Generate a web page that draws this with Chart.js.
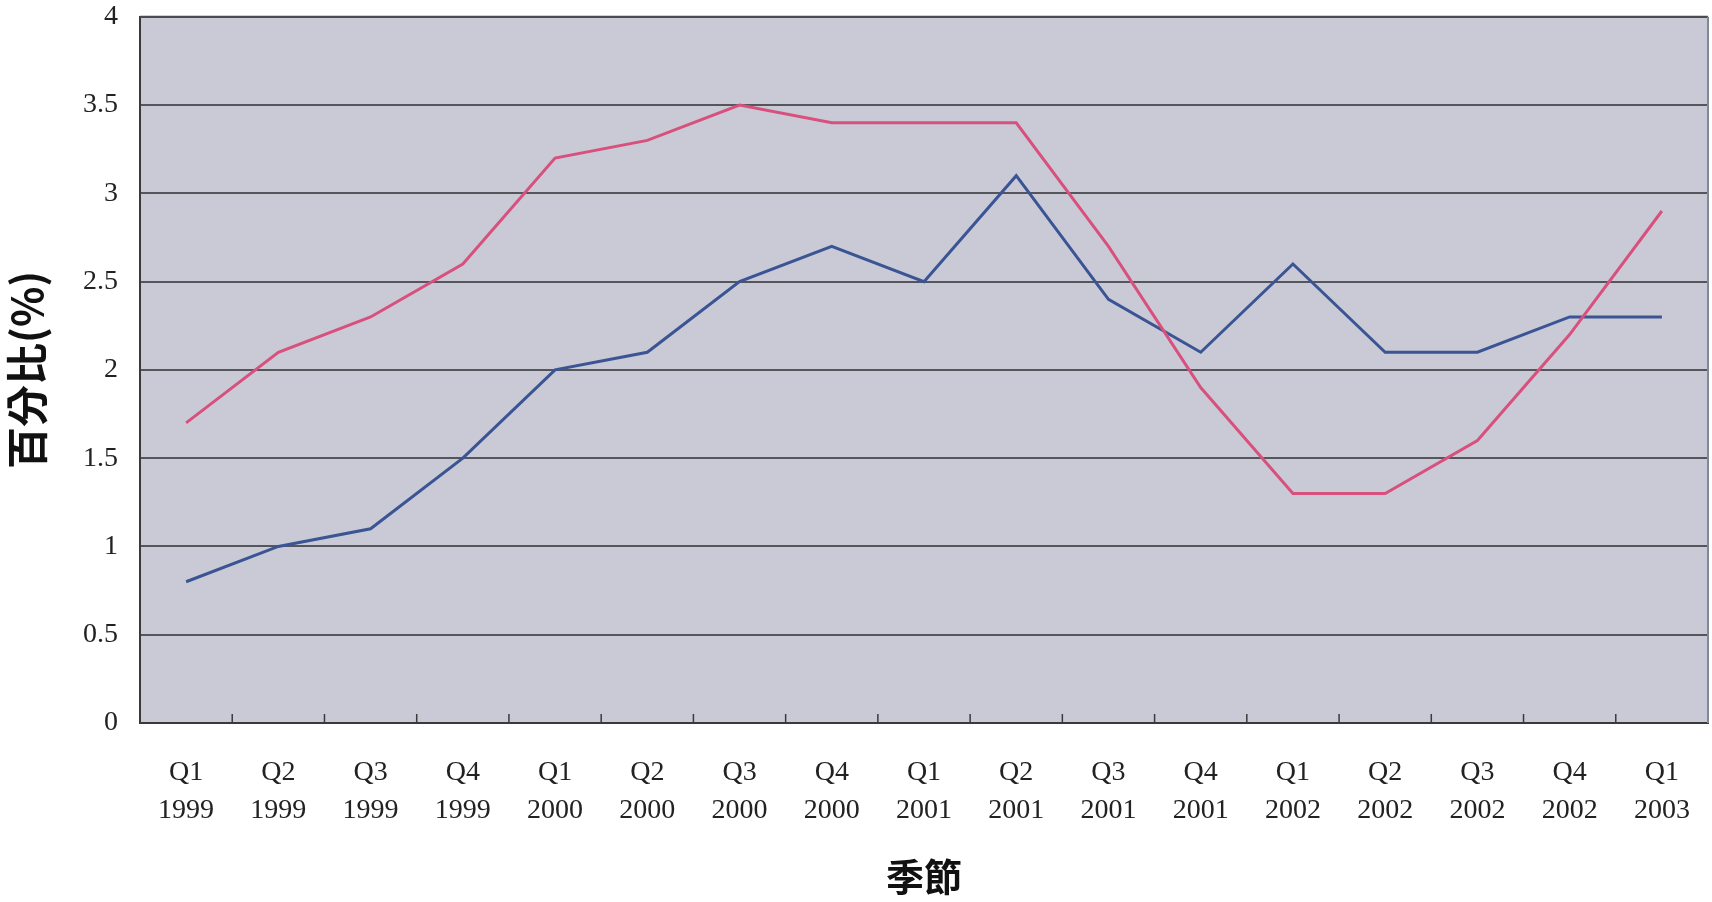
<!DOCTYPE html>
<html>
<head>
<meta charset="utf-8">
<script src="https://cdn.jsdelivr.net/npm/chart.js@4.4.1/dist/chart.umd.min.js"></script>
<style>
  html, body { margin: 0; padding: 0; background: #ffffff; }
  #wrap { width: 1712px; height: 902px; }
</style>
</head>
<body>
<div id="wrap"><canvas id="c" width="1712" height="902"></canvas></div>
<script>
const categories = [
  ['Q1','1999'], ['Q2','1999'], ['Q3','1999'], ['Q4','1999'],
  ['Q1','2000'], ['Q2','2000'], ['Q3','2000'], ['Q4','2000'],
  ['Q1','2001'], ['Q2','2001'], ['Q3','2001'], ['Q4','2001'],
  ['Q1','2002'], ['Q2','2002'], ['Q3','2002'], ['Q4','2002'],
  ['Q1','2003']
];
const redSeries  = [1.7, 2.1, 2.3, 2.6, 3.2, 3.3, 3.5, 3.4, 3.4, 3.4, 2.7, 1.9, 1.3, 1.3, 1.6, 2.2, 2.9];
const blueSeries = [0.8, 1.0, 1.1, 1.5, 2.0, 2.1, 2.5, 2.7, 2.5, 3.1, 2.4, 2.1, 2.6, 2.1, 2.1, 2.3, 2.3];
const yTicks = [0, 0.5, 1, 1.5, 2, 2.5, 3, 3.5, 4];
const yTitle = '百分比(%)';
const xTitle = '季節';

const plotFrame = {
  id: 'plotFrame',
  beforeDraw(chart) {
    const {ctx, chartArea: a} = chart;
    ctx.save();
    ctx.fillStyle = '#c9cad6';
    ctx.fillRect(a.left, a.top, a.right - a.left, a.bottom - a.top);
    ctx.restore();
  },
  afterDraw(chart) {
    const {ctx, chartArea: a} = chart;
    const xs = chart.scales.x;
    ctx.save();
    // inward category tick marks, placed between categories via the scale
    ctx.strokeStyle = '#3a3a3a';
    ctx.lineWidth = 1.5;
    for (let i = 1; i < xs.ticks.length; i++) {
      const x = (xs.getPixelForTick(i - 1) + xs.getPixelForTick(i)) / 2;
      ctx.beginPath();
      ctx.moveTo(x, a.bottom);
      ctx.lineTo(x, a.bottom - 9);
      ctx.stroke();
    }
    ctx.strokeStyle = '#4a4a50';
    ctx.lineWidth = 2;
    ctx.beginPath();
    ctx.moveTo(a.left, a.top);
    ctx.lineTo(a.right, a.top);
    ctx.stroke();
    ctx.strokeStyle = '#7d8a9a';
    ctx.beginPath();
    ctx.moveTo(a.right, a.top);
    ctx.lineTo(a.right, a.bottom);
    ctx.stroke();
    ctx.restore();
  }
};

new Chart(document.getElementById('c'), {
  type: 'line',
  data: {
    labels: categories,
    datasets: [
      { label: 'A', data: redSeries, borderColor: '#d8517e', borderWidth: 3, pointRadius: 0, tension: 0, fill: false },
      { label: 'B', data: blueSeries, borderColor: '#3a5494', borderWidth: 3, pointRadius: 0, tension: 0, fill: false }
    ]
  },
  plugins: [plotFrame],
  options: {
    responsive: false,
    animation: false,
    events: [],
    layout: { padding: { top: 5, right: 4, bottom: 0, left: 0 } },
    plugins: { legend: { display: false }, tooltip: { enabled: false } },
    scales: {
      x: {
        offset: true,
        afterFit(s) { s.height = 179; },
        grid: {
          offset: true,
          drawOnChartArea: false,
          drawTicks: true,
          tickLength: 31,
          tickColor: 'rgba(0,0,0,0)'
        },
        border: { display: true, color: '#3a3a3a', width: 2 },
        ticks: {
          color: '#222222',
          font: { family: 'Liberation Serif', size: 28, lineHeight: 1.36 },
          padding: 0,
          maxRotation: 0,
          autoSkip: false
        },
        title: {
          display: true,
          text: xTitle,
          color: '#111111',
          font: { family: 'Noto Sans CJK TC', size: 38, weight: 'bold', lineHeight: 1.2 },
          padding: { top: 0, bottom: 3 }
        }
      },
      y: {
        min: 0,
        max: 4,
        afterFit(s) { s.width = 140; },
        afterBuildTicks(s) { s.ticks = yTicks.map(v => ({ value: v })); },
        grid: {
          color: '#55555c',
          lineWidth: 2,
          drawTicks: true,
          tickLength: 22,
          tickColor: 'rgba(0,0,0,0)'
        },
        border: { display: true, color: '#3a3a3a', width: 2 },
        ticks: {
          color: '#222222',
          font: { family: 'Liberation Serif', size: 28 },
          padding: 0,
          callback: (v) => String(v)
        },
        title: {
          display: true,
          text: yTitle,
          color: '#111111',
          font: { family: 'Noto Sans CJK TC', size: 42, weight: 'bold', lineHeight: 1.2 },
          padding: { top: 2, bottom: 0 }
        }
      }
    }
  }
});
</script>
</body>
</html>
